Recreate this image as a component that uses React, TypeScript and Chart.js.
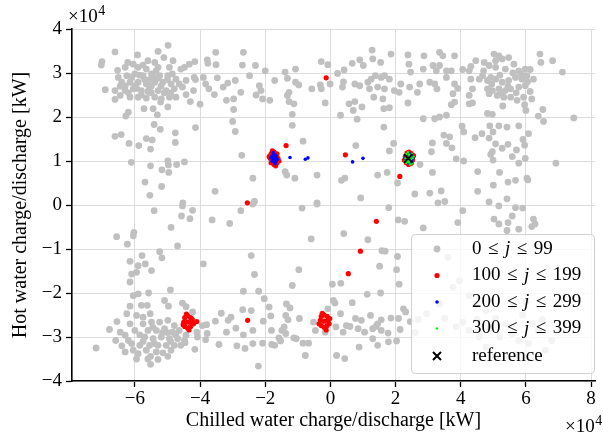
import React, { useEffect, useRef } from 'react';
import { Chart, registerables } from 'chart.js';

Chart.register(...registerables);

const FONT = '"Liberation Serif", "Times New Roman", serif';
const FS = 19;
const TS = 20;

const xTicks = [-6, -4, -2, 0, 2, 4, 6, 8];
const yTicks = [-4, -3, -2, -1, 0, 1, 2, 3, 4];
const xLimits = [-7.93, 8.12];
const yLimits = [-4, 4];

const xTitle = 'Chilled water charge/discharge [kW]';
const yTitle = 'Hot water charge/discharge [kW]';
const legendRanges = [['0', '99'], ['100', '199'], ['200', '299'], ['300', '399']];
const legendRef = 'reference';

// values in units of 10^4 kW
const grayPts: number[][] = [
  [-6.61,3.48],[-7.01,3.26],[-7.03,3.18],[-4.98,3.63],[-5.29,3.49],[-5.92,3.41],[-5.11,3.35],[-4.83,3.28],[-6.22,3.24],[-6.05,3.20],[-5.60,3.28],[-5.39,3.24],[-6.53,3.06],[-6.30,3.13],[-5.90,3.13],[-5.65,3.09],[-5.29,3.13],[-4.94,3.13],[-4.59,3.09],[-4.33,3.20],[-4.16,3.26],[-4.48,3.13],[-3.78,3.30],[-3.76,3.22],[-3.52,3.47],[-3.51,3.19],
  [-6.51,2.90],[-6.25,2.94],[-6.00,2.98],[-5.75,2.94],[-5.49,2.98],[-5.24,2.94],[-4.99,2.94],[-4.74,2.86],[-4.43,2.83],
  [-6.40,2.79],[-6.15,2.79],[-5.90,2.79],[-5.65,2.75],[-5.39,2.79],[-5.14,2.79],[-4.89,2.75],[-4.64,2.75],
  [-6.61,2.60],[-6.91,2.62],[-6.30,2.60],[-6.05,2.64],[-5.80,2.60],[-5.55,2.64],[-5.29,2.60],[-5.04,2.60],[-4.79,2.64],[-4.54,2.68],
  [-6.61,2.40],[-6.45,2.49],[-6.15,2.45],[-5.90,2.45],[-5.65,2.43],[-5.39,2.45],[-5.19,2.41],[-4.94,2.45],[-4.74,2.45],
  [-4.18,2.90],[-4.14,2.85],[-3.90,2.90],[-3.83,2.75],[-3.73,2.64],[-3.47,2.89],
  [-4.20,2.60],[-4.43,2.51],[-4.30,2.35],[-4.00,2.29],
  [-3.56,2.51],[-3.29,2.68],[-3.15,2.77],[-2.92,2.83],[-2.75,2.56],
  [-5.72,2.19],[-5.44,2.19],[-5.21,2.34],[-4.99,2.23],[-5.31,2.05],
  [-6.20,2.11],[-6.28,2.02],
  [-3.19,2.38],[-2.97,2.41],[-2.97,2.17],[-3.00,1.90],[-2.92,1.67],
  [-5.41,1.83],[-5.22,1.72],[-4.76,1.64],[-4.14,1.76],
  [-6.61,1.56],[-6.42,1.60],[-6.18,1.40],[-5.88,1.35],[-5.65,1.51],[-5.47,1.48],[-5.52,1.27],[-4.76,1.42],
  [-2.72,1.13],[-6.11,0.97],[-5.52,0.89],[-4.99,1.00],[-4.97,0.91],[-4.72,0.92],[-4.48,0.98],[-5.17,0.80],[-4.96,0.74],
  [-5.69,0.52],[-5.18,0.42],[-5.54,0.22],[-3.54,0.31],[-4.53,0.05],
  [-6.30,2.70],[-6.00,2.70],[-5.70,2.85],[-5.50,2.70],[-5.20,2.70],[-5.00,2.85],[-5.80,2.50],[-5.50,2.55],[-6.10,2.90],[-5.40,2.90],[-4.90,2.55],
  [-5.85,2.95],[-5.55,2.85],[-5.30,2.88],[-5.60,2.58],[-6.20,2.55],[-5.95,2.65],[-5.10,2.55],[-6.45,2.70],[-4.85,2.98],[-5.35,3.05],[-5.75,3.18],
  [-2.67,3.47],[-2.70,3.18],
  [-2.30,3.17],[-2.00,3.05],[-2.48,2.94],[-2.18,2.71],[-2.13,2.60],[-2.28,2.50],[-2.08,2.41],[-1.86,2.38],[-1.71,2.83],[-1.39,3.02],[-1.32,2.88],[-1.07,3.09],[-1.07,2.79],[-0.97,2.73],[-1.27,2.56],[-1.32,2.49],[-1.27,2.35],[-1.12,2.30],[-1.17,2.06],[-1.17,1.81],[-0.84,1.45],[-1.39,0.76],[-1.34,0.68],[-1.09,0.61],[-0.41,0.68],[-0.28,3.26],[-0.08,3.19],[0.22,2.99],[0.42,3.07],[0.40,2.80],[0.37,2.68],[-0.01,2.75],[-0.28,2.64],[-0.31,2.73],[-0.57,2.64],[-0.16,2.32],[0.31,2.04],[0.67,3.22],[0.90,3.30],[1.01,3.17],[1.28,3.52],[1.30,3.32],[1.54,3.24],[1.86,3.43],[2.38,3.41],[2.41,3.20],[2.46,3.02],[0.75,2.75],[0.90,2.71],[1.15,2.79],[1.25,2.86],[1.38,2.94],[1.56,2.90],[1.66,2.94],[1.81,2.86],[1.45,2.68],[1.20,2.64],[1.66,2.64],[1.96,2.60],[2.11,2.56],[2.16,2.75],[2.43,2.68],[2.74,2.75],[2.67,2.56],[1.33,2.45],[1.61,2.41],[0.75,2.35],[0.57,2.30],[0.70,2.15],[0.97,2.23],[0.82,1.95],[1.64,2.19],[1.81,2.21],[2.38,2.32],[1.64,1.77],[0.78,1.35],[1.81,1.23],[1.94,1.40],[1.45,0.68],[1.74,0.74],[2.06,0.50],[2.59,0.25],[0.44,0.61],[0.34,0.56],[0.93,0.16],[-0.41,0.05],[-2.38,0.61],[-2.33,0.08],
  [2.87,3.39],[3.35,3.47],[3.45,3.39],[3.81,3.39],[3.15,3.17],[3.35,3.17],[3.25,3.05],[2.85,3.09],[3.56,3.05],[3.71,3.05],[4.06,3.08],[4.31,3.15],[4.26,3.05],[4.46,3.28],[4.72,3.24],[5.02,3.43],[5.17,3.39],[5.07,3.28],[5.27,3.32],[5.47,3.35],[5.63,3.20],[4.87,3.17],[5.07,3.13],[5.37,3.09],[5.78,3.05],[5.98,3.09],[6.13,3.08],[6.43,3.43],[6.46,3.24],[6.82,3.28],[7.12,3.02],
  [3.05,2.79],[3.20,2.75],[3.27,2.64],[3.56,2.90],[3.81,2.75],[3.91,2.65],[3.76,2.53],[3.81,2.34],[3.71,2.28],[4.31,2.86],[4.36,2.64],[4.26,2.49],[4.57,2.86],[4.67,2.94],[4.82,2.83],[4.92,2.90],[5.07,2.86],[5.27,2.79],[5.47,2.83],[5.68,2.90],[5.88,2.86],[6.03,2.94],[6.23,2.86],[4.82,2.64],[4.97,2.60],[5.17,2.64],[5.37,2.60],[5.53,2.64],[5.78,2.68],[5.98,2.71],[6.13,2.58],[4.87,2.53],[5.12,2.49],[5.32,2.45],[5.53,2.45],[5.73,2.38],[5.93,2.45],[6.18,2.41],[5.29,2.25],[5.96,2.28],[6.52,2.17],[6.00,2.15],[6.38,2.02],[6.54,1.90],[7.47,1.98],[4.26,2.30],[4.36,2.32],[4.82,2.08],[4.97,2.06],
  [5.60,3.00],[5.20,2.95],[4.95,2.75],[5.45,2.70],[5.70,2.55],[5.25,2.55],[6.05,2.80],[5.85,2.98],[4.70,3.05],
  [2.85,1.96],[3.20,1.96],[3.35,2.00],[3.56,2.04],[4.04,1.79],[4.09,1.66],[3.48,1.59],[3.66,1.55],[3.13,1.41],[3.56,1.40],[3.73,1.30],[3.10,1.21],[4.44,1.53],[4.65,1.62],[4.89,1.80],[4.99,1.66],[4.87,1.52],[5.17,1.80],[5.42,1.77],[5.78,1.80],[6.08,1.62],[5.91,1.49],[5.96,1.36],[5.71,1.25],[5.45,1.38],[5.27,1.29],[5.07,1.39],[4.97,1.21],[4.92,1.15],[5.58,1.10],[5.98,1.06],[5.78,0.95],[4.99,1.02],[4.09,1.00],[3.86,1.05],[6.92,0.95],[2.75,0.92],[3.13,0.74],[4.52,0.76],[5.19,0.74],[5.45,0.52],[5.68,0.56],[6.03,0.61],[6.06,0.57],[5.00,0.45],[3.05,0.27],[3.40,0.32],[4.52,0.31],[5.42,0.14],[4.87,0.07],[3.51,0.08],[3.30,0.05],
  [-5.41,-0.13],[-4.54,-0.02],[-4.23,-0.12],[-4.57,-0.25],[-4.31,-0.31],[-3.63,-0.34],[-3.09,-0.42],[-2.75,-0.13],[-4.89,-0.51],[-6.56,-0.72],[-6.03,-0.62],[-6.05,-0.70],[-6.23,-0.89],[-4.69,-0.93],[-5.78,-1.15],[-5.24,-1.06],[-5.17,-1.20],[-6.15,-1.28],[-5.90,-1.38],[-5.68,-1.34],[-5.95,-1.53],[-6.10,-1.57],[-5.49,-1.49],[-6.15,-1.75],[-3.90,-1.34],[-4.91,-1.93],[-5.58,-2.00],[-6.05,-2.06],[-5.90,-2.02],[-6.15,-2.30],[-5.80,-2.28],[-5.62,-2.28],[-5.09,-2.17],[-4.97,-2.30],[-4.54,-2.23],[-4.43,-2.31],[-4.23,-2.43],[-6.25,-2.47],[-5.95,-2.51],[-5.53,-2.47],[-5.75,-2.55],[-2.67,-1.96],[-2.69,-2.38],[-3.35,-2.46],[-3.05,-2.55],[-3.14,-2.62],[-3.53,-2.64],[-3.80,-2.72],[-2.90,-2.80],[-3.19,-2.89],[-3.93,-2.74],[-3.78,-2.92],[-4.08,-3.00],[-4.10,-2.89],[-3.83,-3.06],[-2.67,-2.95],[-3.42,-3.17],[-2.87,-3.20],[-2.62,-3.26],[-4.16,-3.28],[-4.46,-3.13],[-6.78,-2.83],[-6.45,-2.89],[-6.30,-2.96],[-6.59,-3.08],[-6.20,-3.08],[-7.19,-3.25],[-6.30,-3.34],[-6.05,-3.30],[-5.90,-3.38],[-6.10,-3.15],[-5.85,-3.19],[-5.52,-3.44],[-5.29,-3.51],[-5.52,-3.62],[-4.99,-3.44],[-4.89,-3.30],[-5.65,-3.30],
  [-5.75,-2.70],[-5.49,-2.66],[-5.24,-2.66],[-4.99,-2.62],[-4.79,-2.74],[-5.60,-2.85],[-5.34,-2.85],[-5.09,-2.81],[-4.84,-2.89],[-4.64,-2.85],[-4.43,-2.96],[-5.70,-3.00],[-5.44,-3.04],[-5.19,-3.00],[-4.94,-3.04],[-4.69,-3.04],[-4.48,-3.08],[-5.55,-3.19],[-5.29,-3.19],[-5.04,-3.19],[-4.79,-3.19],[-4.59,-3.19],[-5.34,-3.34],[-5.14,-3.36],
  [-6.00,-2.85],[-5.85,-2.95],[-6.40,-3.20],[-5.95,-3.50],[-5.60,-3.50],[-5.00,-2.90],[-4.75,-2.95],[-5.45,-2.78],[-5.15,-2.90],[-6.15,-2.70],[-6.55,-2.65],[-5.75,-3.10],[-5.40,-3.15],[-4.90,-3.10],
  [-2.38,0.02],[-0.87,-0.07],[-0.41,0.02],[1.79,-0.06],[2.08,-0.34],[2.28,-0.37],[0.41,-0.65],[-0.59,-0.77],[1.15,-0.79],[1.58,-1.04],[1.68,-1.05],[-2.43,-1.15],[2.06,-1.17],[1.51,-1.39],[-0.97,-1.47],[-2.33,-1.58],[2.03,-1.47],[-1.17,-1.83],[0.06,-1.80],[0.32,-1.78],[2.11,-1.80],[-2.20,-1.96],[1.13,-2.03],[1.54,-2.00],[-2.03,-2.13],[-1.35,-2.25],[-1.24,-2.34],[-1.88,-2.32],[-2.43,-2.40],[0.09,-2.17],[0.14,-2.23],[0.67,-2.22],[2.24,-2.36],[2.31,-2.43],[-2.06,-2.64],[-1.83,-2.52],[-1.37,-2.51],[-1.30,-2.61],[-0.95,-2.58],[-0.08,-2.36],[0.31,-2.47],[0.77,-2.58],[0.95,-2.62],[1.23,-2.51],[1.56,-2.61],[1.86,-2.57],[2.09,-2.58],[-0.52,-2.66],[0.17,-2.77],[0.49,-2.74],[0.60,-2.76],[0.39,-2.89],[0.85,-2.81],[1.05,-2.89],[1.40,-2.76],[1.30,-2.81],[1.45,-2.70],[1.56,-2.85],[1.77,-2.91],[2.14,-2.83],[-2.38,-2.85],[-1.81,-2.85],[-1.42,-2.77],[-1.49,-2.85],[-1.37,-2.92],[-1.58,-3.02],[-1.53,-3.09],[-1.12,-3.02],[-1.05,-3.04],[-0.84,-3.14],[-0.67,-3.14],[-0.46,-2.85],[-0.16,-2.89],[-2.38,-3.15],[-2.08,-3.14],[-1.80,-3.17],[-1.71,-3.19],[1.30,-3.04],[1.45,-3.19],[1.78,-3.11],[2.03,-3.09],[0.88,-3.23],[-0.77,-3.42],[0.19,-3.42],[0.44,-3.49],[-2.21,-3.66],
  [2.45,-2.65],[2.60,-2.90],[2.70,-2.60],
  [4.06,-0.13],[5.17,-0.02],[5.68,-0.06],[5.90,-0.07],[6.23,-0.32],[6.28,-0.43],[6.18,-0.49],[5.45,-0.40],[5.17,-0.43],[5.02,-0.32],[5.58,-0.25],[5.78,-0.55],[5.42,-0.58],[2.85,-0.52],[3.91,-0.40],
  [3.61,-1.19],[3.96,-1.72],[3.76,-1.87],[4.26,-2.06],[4.46,-2.25],[4.77,-2.40],[5.07,-2.58],[5.37,-2.70],[5.58,-2.92],[5.78,-3.08],[6.08,-3.15],[6.38,-2.85],[6.59,-3.30],[6.79,-3.08],[4.06,-2.66],[3.86,-2.77],[4.26,-2.85],[4.57,-3.00],[4.77,-3.23],[5.07,-3.45],[3.51,-2.58],[3.35,-2.25],[2.95,-2.47],[5.90,-2.50],[6.20,-2.70],[5.20,-3.00],[6.00,-2.20],[5.60,-2.30],[6.50,-2.60],[5.70,-3.40],[4.50,-2.60],[4.90,-2.80],
];

const redPts: number[][] = [
  [-1.73,1.06],[-1.85,1.06],[-1.61,1.06],[-1.73,1.20],[-1.73,0.92],[-1.82,1.16],[-1.64,1.16],[-1.82,0.96],[-1.64,0.96],[-1.88,1.10],[-1.58,1.00],[-1.78,1.23],[-1.68,0.89],
  [2.41,1.06],[2.30,1.10],[2.52,1.02],[2.35,1.18],[2.48,1.17],[2.33,0.96],[2.48,0.95],[2.27,1.02],[2.55,1.12],[2.41,1.20],[2.40,0.92],
  [-4.38,-2.66],[-4.50,-2.66],[-4.26,-2.66],[-4.38,-2.52],[-4.38,-2.80],[-4.47,-2.56],[-4.29,-2.56],[-4.47,-2.76],[-4.29,-2.76],[-4.52,-2.72],[-4.24,-2.60],[-4.42,-2.48],[-4.34,-2.84],[-4.20,-2.70],
  [-0.19,-2.64],[-0.31,-2.62],[-0.07,-2.62],[-0.19,-2.50],[-0.19,-2.78],[-0.28,-2.53],[-0.10,-2.53],[-0.28,-2.74],[-0.10,-2.74],[-0.35,-2.70],[-0.02,-2.58],[-0.13,-2.84],[-0.25,-2.46],[-0.04,-2.70],
  [-1.36,1.35],[0.46,1.14],[-0.13,2.89],[2.13,0.65],[1.41,-0.37],[0.92,-1.05],[0.55,-1.56],[-2.54,-2.62],[-4.10,-2.65],[-2.55,0.05],
];

const bluePts: number[][] = [
  [-1.73,1.06],[-1.80,1.06],[-1.66,1.06],[-1.73,1.15],[-1.73,0.97],[-1.79,1.12],[-1.67,1.12],[-1.79,1.00],[-1.67,1.00],[-1.76,1.19],[-1.70,0.94],[-1.83,1.08],[-1.63,1.04],
  [2.41,1.06],[2.34,1.12],[2.49,1.12],[2.34,1.00],[2.49,1.00],[2.41,1.17],[2.41,0.95],[2.30,1.06],[2.53,1.06],[2.45,1.15],[2.37,0.98],
  [-1.24,1.08],[-0.77,1.04],[-0.69,1.07],[0.68,0.98],[1.00,1.06],
];

const greenPts: number[][] = [
  [2.41,1.06],[2.35,1.10],[2.47,1.10],[2.35,1.01],[2.47,1.01],[2.41,1.15],[2.41,0.97],[2.30,1.06],[2.52,1.06],[2.33,1.16],[2.50,1.16],[2.33,0.96],[2.50,0.95],[2.44,0.92],[2.38,1.20],[2.46,1.04],[2.37,1.03],[2.43,1.12],[2.39,0.99],[2.55,1.10],[2.28,1.00],
];

const refPts: number[][] = [[2.39, 1.06]];

const toXY = (pts: number[][]) => pts.map(([x, y]) => ({ x, y }));
const fmt = (v: number) => (v < 0 ? '\u2212' + Math.abs(v) : String(v));

const offsetPlugin = {
  id: 'offsetText',
  afterDraw(chart: any) {
    const ctx = chart.ctx;
    ctx.save();
    ctx.fillStyle = '#000';
    ctx.textBaseline = 'alphabetic';
    const draw = (x: number, y: number) => {
      ctx.font = `${FS}px ${FONT}`;
      ctx.fillText('\u00d710', x, y);
      const w = ctx.measureText('\u00d710').width;
      ctx.font = `${Math.round(FS * 0.72)}px ${FONT}`;
      ctx.fillText('4', x + w + 0.5, y - 7);
    };
    draw(68, 22);
    draw(565, 432);
    ctx.restore();
  },
};

const legendPlugin = {
  id: 'mathLegend',
  afterDraw(chart: any) {
    const ctx = chart.ctx;
    ctx.save();
    const bx = 411, by = 234, bw = 183, bh = 139;
    ctx.beginPath();
    ctx.roundRect(bx + 0.5, by + 0.5, bw, bh, 4);
    ctx.fillStyle = 'rgba(255,255,255,0.8)';
    ctx.fill();
    ctx.strokeStyle = '#d0d0d0';
    ctx.lineWidth = 1;
    ctx.stroke();
    const rows = [249, 275.5, 302, 328.5, 356];
    const mx = 437, tx = 472, gap = 6.5;
    const marks = [
      { c: '#bfbfbf', r: 3.4 },
      { c: '#ff0000', r: 2.6 },
      { c: '#0000ff', r: 1.8 },
      { c: '#00ff00', r: 1.2 },
    ];
    ctx.textBaseline = 'middle';
    for (let i = 0; i < 4; i++) {
      const y = rows[i];
      ctx.beginPath();
      ctx.arc(mx, y, marks[i].r, 0, Math.PI * 2);
      ctx.fillStyle = marks[i].c;
      ctx.fill();
      ctx.fillStyle = '#000';
      const pieces: [string, boolean][] = [
        [legendRanges[i][0], false], ['\u2264', false], ['j', true], ['\u2264', false], [legendRanges[i][1], false],
      ];
      let x = tx;
      for (const [s, it] of pieces) {
        ctx.font = `${it ? 'italic ' : ''}${FS}px ${FONT}`;
        ctx.fillText(s, x, y);
        x += ctx.measureText(s).width + gap;
      }
    }
    const y = rows[4];
    ctx.strokeStyle = '#000';
    ctx.lineWidth = 2;
    ctx.beginPath();
    ctx.moveTo(mx - 4, y - 4); ctx.lineTo(mx + 4, y + 4);
    ctx.moveTo(mx - 4, y + 4); ctx.lineTo(mx + 4, y - 4);
    ctx.stroke();
    ctx.fillStyle = '#000';
    ctx.font = `${FS}px ${FONT}`;
    ctx.fillText(legendRef, tx, y);
    ctx.restore();
  },
};

export default function App() {
  const ref = useRef<HTMLCanvasElement>(null);
  useEffect(() => {
    if (!ref.current) return;
    const tickFont = { family: FONT, size: FS };
    const titleFont = { family: FONT, size: TS };
    const chart = new Chart(ref.current, {
      type: 'scatter',
      data: {
        datasets: [
          { data: toXY(grayPts), backgroundColor: '#c0c0c0', pointRadius: 3.4, borderWidth: 0, order: 5 } as any,
          { data: toXY(redPts), backgroundColor: '#ff0000', pointRadius: 2.6, borderWidth: 0, order: 4 },
          { data: toXY(bluePts), backgroundColor: '#0000ff', pointRadius: 1.8, borderWidth: 0, order: 3 },
          { data: toXY(greenPts), backgroundColor: '#00ff00', pointRadius: 1.2, borderWidth: 0, order: 2 },
          { data: toXY(refPts), pointStyle: 'crossRot', borderColor: '#000', backgroundColor: '#000', pointRadius: 6, borderWidth: 2, order: 1 },
        ],
      },
      options: {
        animation: false,
        responsive: false,
        devicePixelRatio: 1,
        events: [],
        layout: { padding: { left: 0, top: 29, right: 3, bottom: 0 } },
        plugins: { legend: { display: false }, tooltip: { enabled: false } },
        scales: {
          x: {
            type: 'linear',
            min: xLimits[0],
            max: xLimits[1],
            afterBuildTicks: (a: any) => { a.ticks = xTicks.map((v) => ({ value: v })); },
            afterFit: (a: any) => { a.height = 55; a.paddingLeft = 0; a.paddingRight = 0; },
            ticks: { callback: (v: any) => fmt(Number(v)), font: tickFont, color: '#000', padding: 1, maxRotation: 0, autoSkip: false },
            grid: { color: '#dcdcdc', lineWidth: 1, tickColor: '#000', tickLength: 6, tickWidth: 1.3 },
            border: { color: '#000', width: 1.6 },
            title: { display: true, text: xTitle, font: titleFont, color: '#000', padding: { top: 0, bottom: 3 } },
          },
          y: {
            type: 'linear',
            min: yLimits[0],
            max: yLimits[1],
            afterBuildTicks: (a: any) => { a.ticks = yTicks.map((v) => ({ value: v })); },
            afterFit: (a: any) => { a.width = 72; a.paddingTop = 0; a.paddingBottom = 0; },
            ticks: { callback: (v: any) => fmt(Number(v)), font: tickFont, color: '#000', padding: 4, autoSkip: false },
            grid: { color: '#dcdcdc', lineWidth: 1, tickColor: '#000', tickLength: 6, tickWidth: 1.3 },
            border: { color: '#000', width: 1.6 },
            title: { display: true, text: yTitle, font: titleFont, color: '#000', padding: { top: 9, bottom: 0 } },
          },
        },
      },
      plugins: [legendPlugin, offsetPlugin],
    });
    return () => chart.destroy();
  }, []);
  return (
    <div style={{ position: 'fixed', left: 0, top: 0, width: 603, height: 436, background: '#fff' }}>
      <canvas ref={ref} width={603} height={436} style={{ display: 'block' }} />
    </div>
  );
}
